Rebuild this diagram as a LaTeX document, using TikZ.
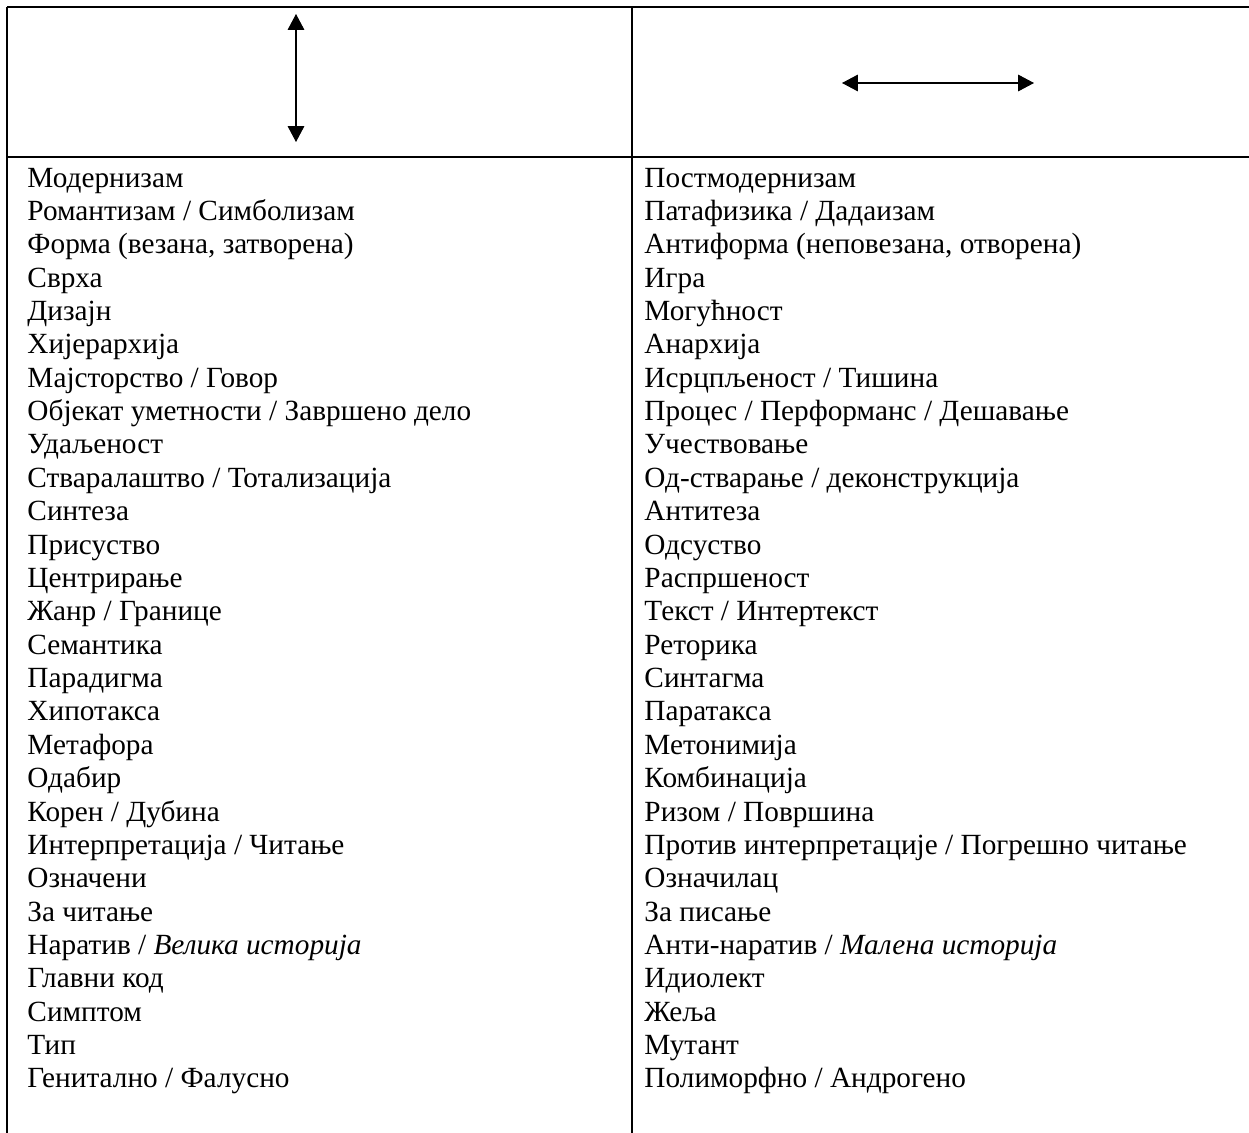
\documentclass[tikz,border=0pt]{standalone}
\usepackage{fontspec}
\setmainfont{Liberation Serif}
\usetikzlibrary{arrows.meta}

\tikzset{
  rule/.style={line width=0.9pt},
  midrule/.style={line width=0.6pt},
  cell/.style={anchor=base west, inner sep=0pt, font=\fontsize{12.3}{14}\selectfont},
  dblarrow/.style={line width=0.45pt, {Triangle[length=6.7pt,width=7pt]}-{Triangle[length=6.7pt,width=7pt]}}
}

\begin{document}
\begin{tikzpicture}[x=0.42pt, y=-0.42pt]
    \useasboundingbox (0,0) rectangle (1249,1133);

    % Table frame
    \draw[rule] (7,7) -- (1249,7);
    \draw[rule] (7,157) -- (1249,157);
    \draw[rule] (7,7) -- (7,1133);
    \draw[midrule] (632,7) -- (632,1133);

    % Header arrows
    \coordinate (vtop) at (296,14);
    \coordinate (vbot) at (296,142);
    \coordinate (hleft) at (842,83);
    \coordinate (hright) at (1034,83);
    \draw[dblarrow] (vtop) -- (vbot);
    \draw[dblarrow] (hleft) -- (hright);

    % Rows: left column / right column
    \foreach \n/\lt/\rt in {
        1/{Модернизам}/{Постмодернизам},
        2/{Романтизам / Симболизам}/{Патафизика / Дадаизам},
        3/{Форма (везана, затворена)}/{Антиформа (неповезана, отворена)},
        4/{Сврха}/{Игра},
        5/{Дизајн}/{Могућност},
        6/{Хијерархија}/{Анархија},
        7/{Мајсторство / Говор}/{Исрцпљеност / Тишина},
        8/{Објекат уметности / Завршено дело}/{Процес / Перформанс / Дешавање},
        9/{Удаљеност}/{Учествовање},
        10/{Стваралаштво / Тотализација}/{Од-стварање / деконструкција},
        11/{Синтеза}/{Антитеза},
        12/{Присуство}/{Одсуство},
        13/{Центрирање}/{Распршеност},
        14/{Жанр / Границе}/{Текст / Интертекст},
        15/{Семантика}/{Реторика},
        16/{Парадигма}/{Синтагма},
        17/{Хипотакса}/{Паратакса},
        18/{Метафора}/{Метонимија},
        19/{Одабир}/{Комбинација},
        20/{Корен / Дубина}/{Ризом / Површина},
        21/{Интерпретација / Читање}/{Против интерпретације / Погрешно читање},
        22/{Означени}/{Означилац},
        23/{За читање}/{За писање},
        24/{Наратив / \textit{Велика историја}}/{Анти-наратив / \textit{Малена историја}},
        25/{Главни код}/{Идиолект},
        26/{Симптом}/{Жеља},
        27/{Тип}/{Мутант},
        28/{Генитално / Фалусно}/{Полиморфно / Андрогено}} {
        \node[cell] (l\n) at (27, {187+(\n-1)*33.37}) {\lt};
        \node[cell] (r\n) at (644, {187+(\n-1)*33.37}) {\rt};
    }
\end{tikzpicture}
\end{document}
